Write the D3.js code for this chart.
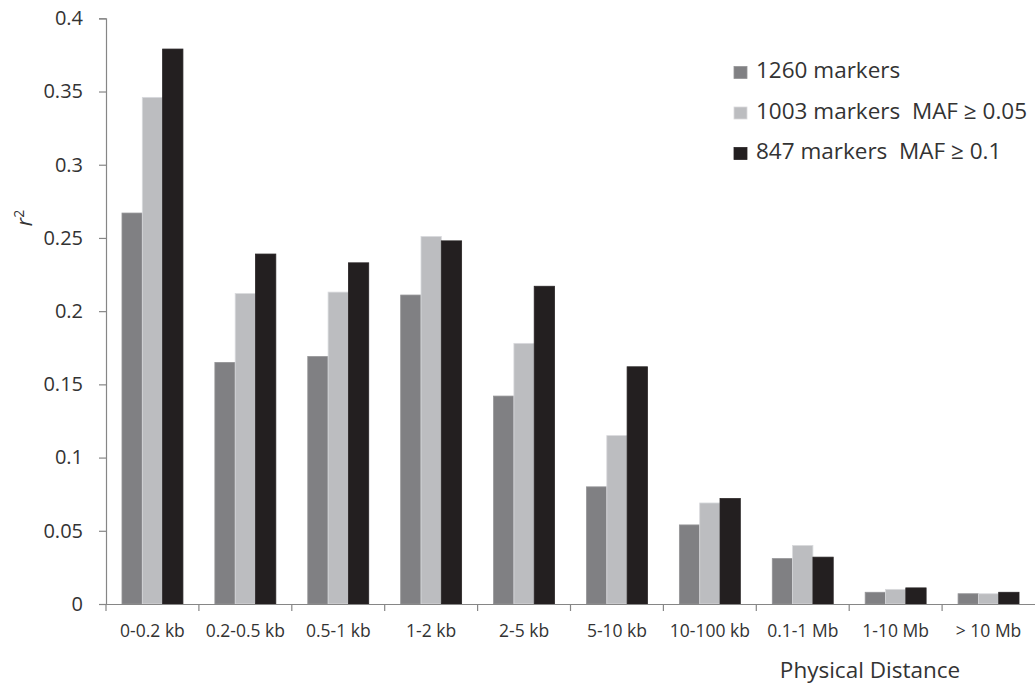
<!DOCTYPE html>
<html><head><meta charset="utf-8">
<script src="https://cdn.jsdelivr.net/npm/d3@7"></script>
<style>body{margin:0;background:#fff}svg{display:block}text{font-family:"Open Sans",sans-serif;fill:#333}</style>
</head><body><svg id="c" width="1035" height="685"></svg>
<script>
const categories = ["0-0.2 kb","0.2-0.5 kb","0.5-1 kb","1-2 kb","2-5 kb","5-10 kb","10-100 kb","0.1-1 Mb","1-10 Mb","> 10 Mb"];
const seriesNames = ["1260 markers","1003 markers\u00a0 MAF \u2265 0.05","847 markers\u00a0 MAF \u2265 0.1"];
const s1260 = [0.267,0.165,0.169,0.211,0.142,0.080,0.054,0.031,0.008,0.007];
const s1003 = [0.346,0.212,0.213,0.251,0.178,0.115,0.069,0.040,0.010,0.007];
const s847  = [0.379,0.239,0.233,0.248,0.217,0.162,0.072,0.032,0.011,0.008];
const yTicks = [0,0.05,0.1,0.15,0.2,0.25,0.3,0.35,0.4];
const colors = ["#808083","#bcbdc0","#231f20"];
const series = [s1260,s1003,s847];

const svg = d3.select("#c");
const x0 = d3.scaleBand().domain(categories).range([106,1035]).paddingInner(0).paddingOuter(0);
const x1 = d3.scaleBand().domain(d3.range(3)).range([x0.bandwidth()*0.172, x0.bandwidth()*0.828]);
const y = d3.scaleLinear().domain([0,0.4]).range([604,18.3]);

const g = svg.append("g");
categories.forEach((c,i)=>{
  series.forEach((s,j)=>{
    g.append("rect")
      .attr("x", x0(c)+x1(j))
      .attr("y", y(s[i]))
      .attr("width", x1.bandwidth())
      .attr("height", y(0)-y(s[i]))
      .attr("fill", colors[j])
      .attr("stroke", d3.color(colors[j]).brighter(0.4))
      .attr("stroke-width", 0.8);
  });
});

// y axis
const ya = svg.append("g").attr("transform","translate(106,0)")
  .call(d3.axisLeft(y).tickValues(yTicks).tickSize(7).tickPadding(16).tickFormat(d=>d3.format("")(+d.toFixed(2))));
ya.select(".domain").attr("stroke","#868686").attr("stroke-width",1.2);
ya.selectAll(".tick line").attr("stroke","#868686").attr("stroke-width",1.2);
ya.selectAll(".tick text").attr("font-size",20).attr("fill","#333").attr("font-family","Open Sans");

// x axis
const xa = svg.append("g").attr("transform","translate(0,604)")
  .call(d3.axisBottom(x0).tickSize(0).tickPadding(20.5).tickSizeOuter(0));
xa.select(".domain").attr("stroke","#868686").attr("stroke-width",1.2);
xa.selectAll(".tick text").attr("font-size",17.5).attr("fill","#333").attr("font-family","Open Sans");
const bounds = categories.map(c=>x0(c));
xa.selectAll(".sep").data(bounds).enter().append("line")
  .attr("x1",d=>d).attr("x2",d=>d).attr("y1",0).attr("y2",7)
  .attr("stroke","#868686").attr("stroke-width",1.2);

// axis titles
const yl = svg.append("text").attr("transform","translate(32,218) rotate(-90)")
  .attr("text-anchor","middle").attr("font-size",21);
yl.append("tspan").text("r").attr("font-style","italic");
yl.append("tspan").text("2").attr("font-size",14).attr("dy",-8);
svg.append("text").attr("x",870).attr("y",678).attr("text-anchor","middle")
  .attr("font-size",22.5).text("Physical Distance");

// legend
const lg = svg.append("g");
seriesNames.forEach((n,j)=>{
  const yy = 78 + j*40.5;
  lg.append("rect").attr("x",734).attr("y",yy-11.5).attr("width",13).attr("height",12)
    .attr("fill",colors[j]).attr("stroke",d3.color(colors[j]).brighter(0.4)).attr("stroke-width",0.8);
  lg.append("text").attr("x",756).attr("y",yy).attr("font-size",22.5).text(n);
});
</script></body></html>
